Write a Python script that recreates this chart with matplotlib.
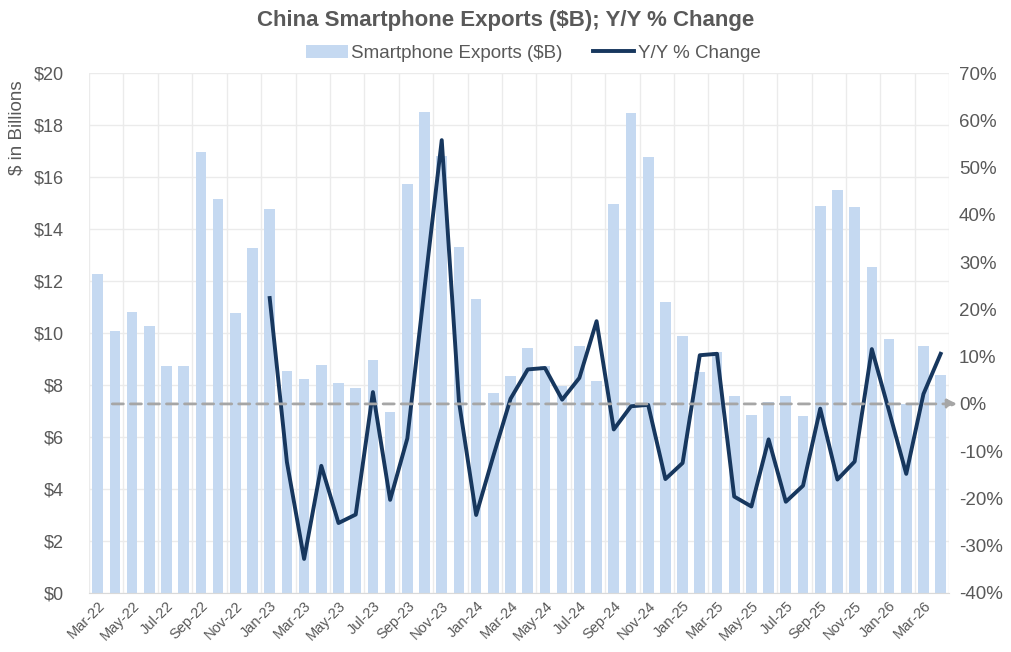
import matplotlib
matplotlib.use('Agg')
import matplotlib.pyplot as plt
import matplotlib.ticker as mticker
import numpy as np

# --- Dados ---
months = ['Mar-22', 'Apr-22', 'May-22', 'Jun-22', 'Jul-22', 'Aug-22', 'Sep-22', 'Oct-22', 'Nov-22', 'Dec-22',
          'Jan-23', 'Feb-23', 'Mar-23', 'Apr-23', 'May-23', 'Jun-23', 'Jul-23', 'Aug-23', 'Sep-23', 'Oct-23',
          'Nov-23', 'Dec-23', 'Jan-24', 'Feb-24', 'Mar-24', 'Apr-24', 'May-24', 'Jun-24', 'Jul-24', 'Aug-24',
          'Sep-24', 'Oct-24', 'Nov-24', 'Dec-24', 'Jan-25', 'Feb-25', 'Mar-25', 'Apr-25', 'May-25', 'Jun-25',
          'Jul-25', 'Aug-25', 'Sep-25', 'Oct-25', 'Nov-25', 'Dec-25', 'Jan-26', 'Feb-26', 'Mar-26', 'Apr-26']

exports = [12.28, 10.06, 10.79, 10.27, 8.73, 8.72, 16.96, 15.14, 10.77, 13.28,
           14.77, 8.54, 8.24, 8.77, 8.09, 7.87, 8.97, 6.95, 15.74, 18.52,
           16.81, 13.29, 11.29, 7.69, 8.35, 9.42, 8.73, 7.97, 9.49, 8.17,
           14.95, 18.45, 16.78, 11.18, 9.90, 8.49, 9.28, 7.57, 6.86, 7.34,
           7.56, 6.79, 14.87, 15.51, 14.83, 12.53, 9.77, 7.28, 9.50, 8.39]

# Y/Y % change (começa em Jan-23)
yoy = [None] * 10 + [22.4, -12.3, -32.8, -13.1, -25.2, -23.4, 2.5, -20.3, -7.3, 24.5,
                     55.8, 0.5, -23.5, -11.0, 1.1, 7.3, 7.6, 0.9, 5.5, 17.5,
                     -5.4, -0.5, -0.2, -15.9, -12.5, 10.3, 10.6, -19.6, -21.7, -7.5,
                     -20.7, -17.3, -1.0, -16.0, -12.2, 11.6, -1.5, -14.8, 2.1, 10.6]

bar_color = '#C5D9F1'
line_color = '#17375E'
text_color = '#595959'
grid_color = '#EBEBEB'

plt.rcParams['font.family'] = ['Liberation Sans', 'DejaVu Sans']

fig = plt.figure(figsize=(10.12, 6.52), dpi=100)
ax = fig.add_axes([0.088, 0.0905, 0.850, 0.7975])
ax2 = ax.twinx()

x = np.arange(len(months))
bars = ax.bar(x, exports, width=0.62, color=bar_color, label='Smartphone Exports ($B)', zorder=2)

y_line = np.array([np.nan if v is None else v for v in yoy], dtype=float)
line, = ax2.plot(x, y_line, color=line_color, linewidth=2.8, label='Y/Y % Change',
                 solid_joinstyle='round', zorder=3)

# linha do zero com seta
ax2.annotate('', xy=(len(months) - 0.05, 0), xytext=(0.85, 0),
             arrowprops=dict(arrowstyle='-|>', color='#A6A6A6', lw=2, linestyle=(0, (4, 2.5)),
                             mutation_scale=14, shrinkA=0, shrinkB=0),
             annotation_clip=False, zorder=4)

ax.set_xlim(-0.5, len(months) - 0.5)
ax.set_ylim(0, 20)
ax.set_yticks(np.arange(0, 21, 2))
ax.yaxis.set_major_formatter(mticker.FuncFormatter(lambda v, p: f'${v:.0f}'))
ax2.set_ylim(-40, 70)
ax2.set_yticks(np.arange(-40, 71, 10))
ax2.yaxis.set_major_formatter(mticker.FuncFormatter(lambda v, p: f'{v:.0f}%'))

ax.set_xticks(x[::2])
ax.set_xticklabels(months[::2], rotation=45, ha='right', rotation_mode='anchor', fontsize=10.5, color=text_color)
ax.set_xticks(np.arange(-0.5, len(months), 2), minor=True)

ax.grid(axis='y', color=grid_color, linewidth=1, zorder=0)
ax.grid(axis='x', which='minor', color=grid_color, linewidth=1, zorder=0)
ax.set_axisbelow(True)

ax.tick_params(axis='x', which='both', length=0, pad=4)
ax.tick_params(axis='y', length=0, labelsize=13, labelcolor=text_color, pad=18)
ax2.tick_params(axis='y', length=0, labelsize=13.5, labelcolor=text_color, pad=7)

for a in (ax, ax2):
    for s in ('top', 'right', 'left', 'bottom'):
        a.spines[s].set_visible(False)
ax.spines['bottom'].set_visible(True)
ax.spines['bottom'].set_color('#D9D9D9')

ax.set_ylabel('$ in Billions', fontsize=13.5, color=text_color)
ax.yaxis.set_label_coords(-0.074, 0.895)

fig.text(0.5, 0.968, 'China Smartphone Exports ($B); Y/Y % Change', ha='center', va='center',
         fontsize=16, fontweight='bold', color=text_color)
fig.legend(handles=[bars, line], loc='center', bbox_to_anchor=(0.527, 0.918), ncol=2, frameon=False,
           fontsize=13.5, labelcolor=text_color, handlelength=2.2, handletextpad=0.2, columnspacing=1.6)

plt.savefig('out.png', dpi=100)
